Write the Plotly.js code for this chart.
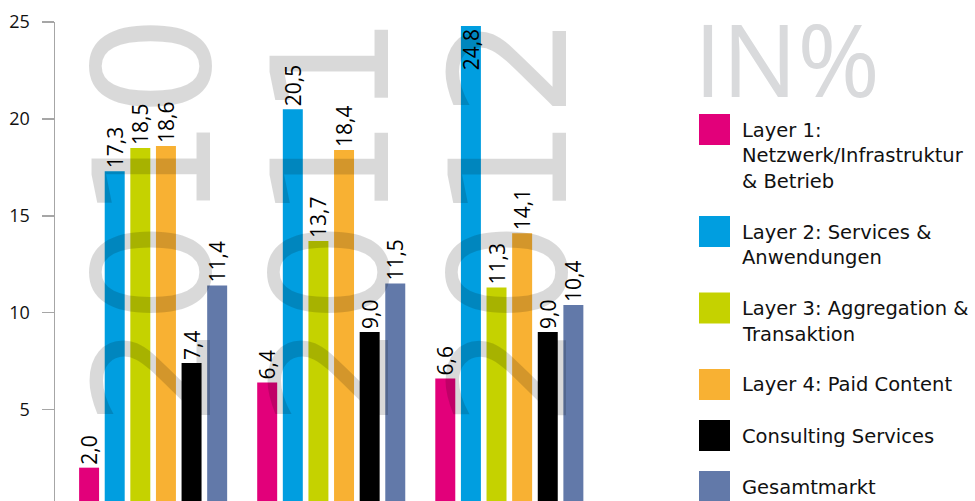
<!DOCTYPE html>
<html>
<head>
<meta charset="utf-8">
<script src="https://cdn.plot.ly/plotly-3.0.1.min.js"></script>
<style>
html,body{margin:0;padding:0;background:#fff;}
#chart{width:975px;height:501px;}
</style>
</head>
<body>
<div id="chart"></div>
<script>
// ---- data ----
const years = ['2010', '2011', '2012'];
const seriesNames = [
  'Layer 1:\nNetzwerk/Infrastruktur\n& Betrieb',
  'Layer 2: Services &\nAnwendungen',
  'Layer 3: Aggregation &\nTransaktion',
  'Layer 4: Paid Content',
  'Consulting Services',
  'Gesamtmarkt'
];
const layer1 = [2.0, 6.4, 6.6];
const layer2 = [17.3, 20.5, 24.8];
const layer3 = [18.5, 13.7, 11.3];
const layer4 = [18.6, 18.4, 14.1];
const consulting = [7.4, 9.0, 9.0];
const gesamt = [11.4, 11.5, 10.4];
const tickValues = [5, 10, 15, 20, 25];
const unitLabel = 'IN%';

// ---- style ----
const colors = ['#e2007a', '#009ee0', '#c5d200', '#f8b133', '#000000', '#6279a9'];
const seriesValues = [layer1, layer2, layer3, layer4, consulting, gesamt];
const FONT = 'Open Sans, Lato, sans-serif';
const LEGFONT = 'DejaVu Sans, sans-serif';

const W = 975, H = 501;
const mL = 55, mR = 341, mT = 22, mB = 0;
const pw = W - mL - mR, ph = H - mT - mB;
const px2x = px => (px - mL) / pw;
const py2y = py => (H - mB - py) / ph;

const xIdx = years.map((_, i) => i);

const traces = seriesValues.map((vals, k) => ({
  type: 'bar',
  x: xIdx,
  y: vals,
  name: seriesNames[k],
  marker: {color: colors[k]},
  texttemplate: '%{y:.1f}',
  textposition: vals.map(v => v > 23 ? 'inside' : 'outside'),
  insidetextanchor: 'end',
  textangle: -90,
  constraintext: 'none',
  cliponaxis: false,
  textfont: {family: FONT, size: 21, color: '#000'},
  insidetextfont: {family: FONT, size: 21, color: '#000'},
  outsidetextfont: {family: FONT, size: 21, color: '#000'},
  hoverinfo: 'skip',
  showlegend: false
}));

const annotations = [];
const shapes = [];

// watermark years
years.forEach((yr, i) => {
  annotations.push({
    xref: 'x', yref: 'y', x: i, y: 14.75,
    text: yr, showarrow: false, textangle: -90,
    xanchor: 'center', yanchor: 'middle',
    font: {family: 'DejaVu Sans', size: 162, color: 'rgba(0,0,0,0.15)'}
  });
});

// IN%
annotations.push({
  xref: 'paper', yref: 'paper', x: px2x(692), y: py2y(58),
  text: unitLabel, showarrow: false, xanchor: 'left', yanchor: 'middle',
  font: {family: FONT, size: 100, color: '#d9dadc'}
});

// legend
let legTop = 114;
seriesNames.forEach((nm, k) => {
  const lines = nm.split('\n');
  shapes.push({
    type: 'rect', xref: 'paper', yref: 'paper',
    x0: px2x(699), x1: px2x(730), y0: py2y(legTop), y1: py2y(legTop + 31),
    fillcolor: colors[k], line: {width: 0}
  });
  lines.forEach((ln, j) => {
    annotations.push({
      xref: 'paper', yref: 'paper', x: px2x(741), y: py2y(legTop + 16 + j * 25.5),
      text: ln, showarrow: false, xanchor: 'left', yanchor: 'middle', borderpad: 0,
      font: {family: LEGFONT, size: 19.5, color: '#111'}
    });
  });
  legTop += 51 + (lines.length - 1) * 25.5;
});

const layout = {
  width: W, height: H,
  margin: {l: mL, r: mR, t: mT, b: mB, pad: 0},
  paper_bgcolor: '#fff', plot_bgcolor: 'rgba(0,0,0,0)',
  barmode: 'group', bargap: 0.137, bargroupgap: 0.22,
  separators: ', ',
  showlegend: false,
  xaxis: {range: [-0.551, 2.7], showticklabels: false, showgrid: false, zeroline: false, showline: false, ticks: '', fixedrange: true},
  yaxis: {
    range: [0.28, 25], tickvals: tickValues, ticktext: tickValues.map(String),
    showgrid: false, zeroline: false, showline: true, linecolor: '#a6a6a6', linewidth: 1.5,
    ticks: 'outside', ticklen: 12, tickwidth: 1.5, tickcolor: '#a6a6a6',
    ticklabelstandoff: 8,
    tickfont: {family: FONT, size: 18, color: '#111'}
  },
  annotations: annotations,
  shapes: shapes
};

Plotly.newPlot('chart', traces, layout, {staticPlot: true, displayModeBar: false});
</script>
</body>
</html>
